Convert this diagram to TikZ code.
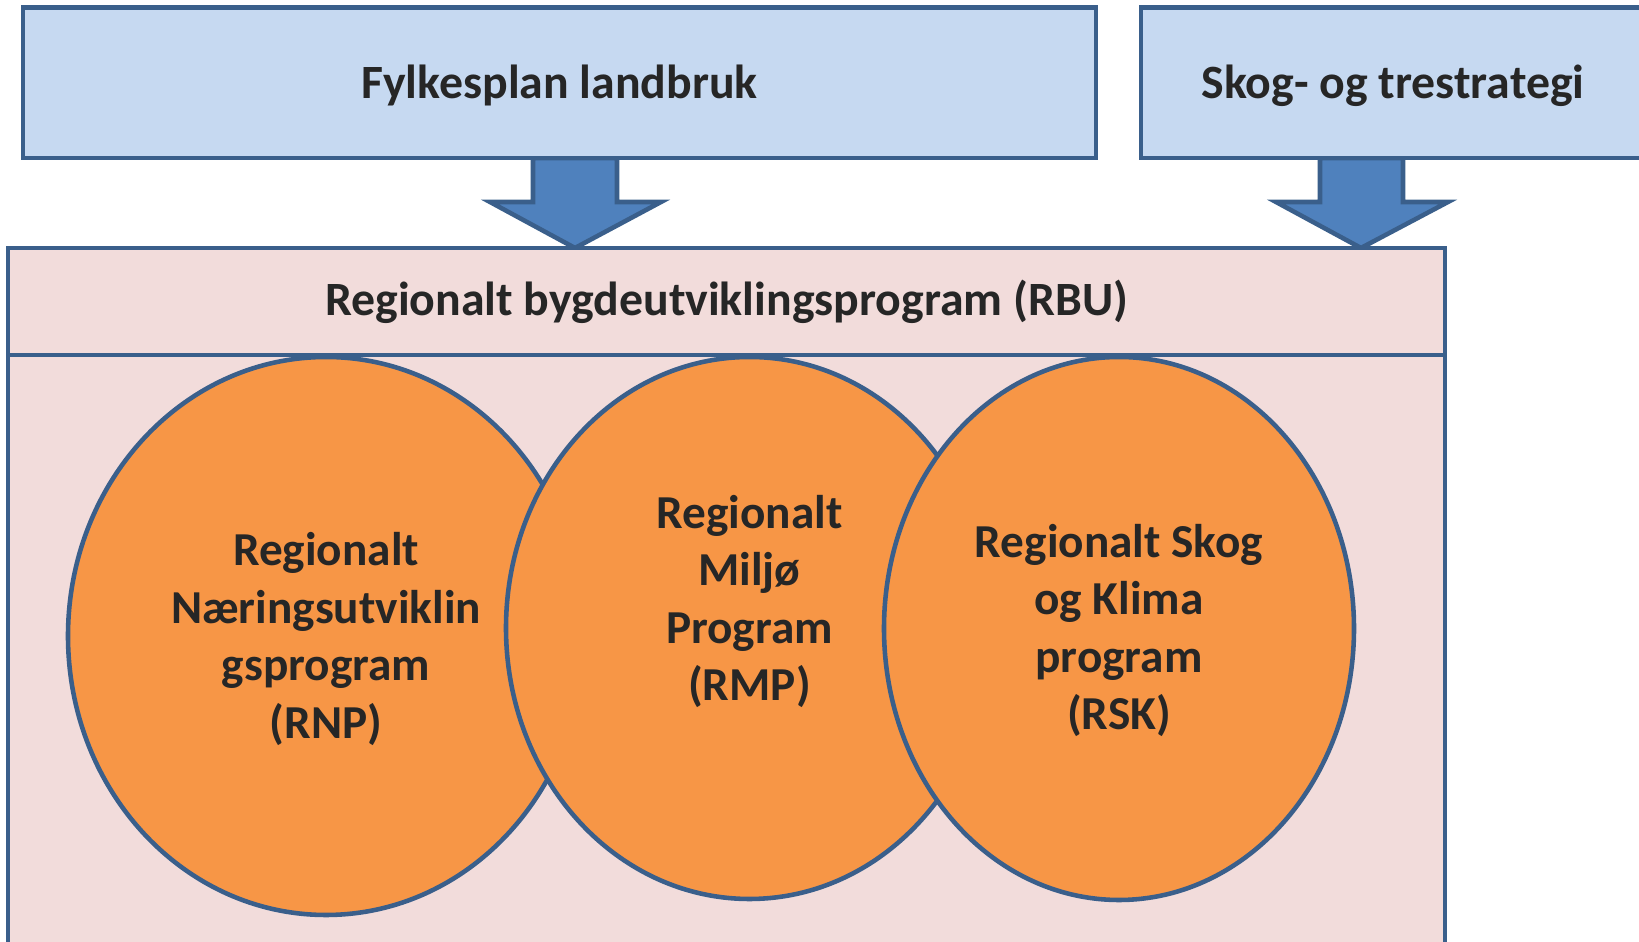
\documentclass[tikz,border=0pt]{standalone}
\usepackage{fontspec}
\setmainfont{Carlito}
\usepackage{tikz}
\usetikzlibrary{positioning, shapes.geometric}

\definecolor{planblue}{HTML}{C6D9F1}
\definecolor{edgeblue}{HTML}{3A5F8B}
\definecolor{arrowblue}{HTML}{4F81BD}
\definecolor{rbupink}{HTML}{F2DCDB}
\definecolor{progorange}{HTML}{F79646}
\definecolor{textgray}{HTML}{262626}

\tikzset{
  planbox/.style={draw=edgeblue, fill=planblue, line width=1.3pt, text=textgray,
    font=\bfseries\fontsize{13.6}{16.4}\selectfont, minimum height=1.507cm},
  blockarrow/.style={draw=edgeblue, fill=arrowblue, line width=1.3pt},
  rbubox/.style={draw=edgeblue, fill=rbupink, line width=1.3pt},
  progring/.style={ellipse, draw=edgeblue, fill=progorange, line width=1.3pt, inner sep=0pt},
  progtext/.style={align=center, text=textgray, font=\bfseries\fontsize{13.45}{16.35}\selectfont}
}

\begin{document}
\begin{tikzpicture}
\clip (0,0) rectangle (16.39,9.42);

% Arrows into RBU
\draw[blockarrow] (5.33,7.84) -- (5.33,7.40) -- (4.90,7.40) -- (5.75,6.94) -- (6.61,7.40) -- (6.17,7.40) -- (6.17,7.84) -- cycle;
\draw[blockarrow] (13.20,7.84) -- (13.20,7.40) -- (12.76,7.40) -- (13.61,6.94) -- (14.48,7.40) -- (14.03,7.40) -- (14.03,7.84) -- cycle;

% Plans on top
\node[planbox, minimum width=10.73cm] (fylke) at (5.595,8.594) {};
\node[planbox, minimum width=5.04cm] (skog) at (13.93,8.594) {};
\node[text=textgray, font=\bfseries\fontsize{13.6}{16.4}\selectfont] (fylketext) at ([yshift=-0.03cm]fylke.center) {Fylkesplan landbruk};
\node[text=textgray, font=\bfseries\fontsize{13.6}{16.4}\selectfont] (skogtext) at ([yshift=-0.03cm]skog.center) {Skog- og trestrategi};

% RBU
\draw[rbubox] (0.08,-0.3) rectangle (14.45,5.87);
\node[rbubox, minimum width=14.37cm, minimum height=1.07cm, text=textgray,
  font=\bfseries\fontsize{13.6}{16.4}\selectfont] (rbu) at (7.265,6.405) {Regionalt bygdeutviklingsprogram (RBU)};

% Programs
\node[progring, minimum width=5.16cm, minimum height=5.58cm] (rnp) at (3.26,3.06) {};
\node[progring, minimum width=4.87cm, minimum height=5.42cm] (rmp) at (7.495,3.14) {};
\node[progring, minimum width=4.70cm, minimum height=5.43cm] (rsk) at (11.19,3.135) {};

\node[progtext] (rnptext) at ([yshift=-0.03cm]rnp.center) {Regionalt\\Næringsutviklin\\gsprogram\\(RNP)};
\node[progtext] (rmptext) at ([yshift=0.265cm]rmp.center) {Regionalt\\Miljø\\Program\\(RMP)};
\node[progtext] (rsktext) at ([yshift=-0.02cm]rsk.center) {Regionalt Skog\\og Klima\\program\\(RSK)};
\end{tikzpicture}
\end{document}
